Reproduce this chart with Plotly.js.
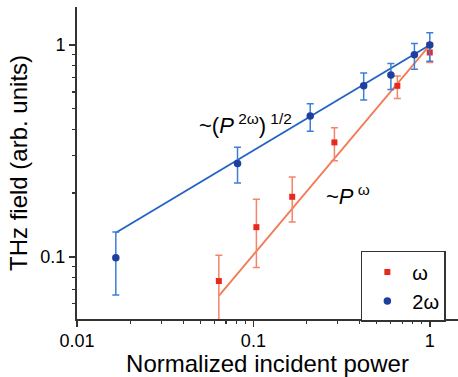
<!DOCTYPE html>
<html>
<head>
<meta charset="utf-8">
<script src="https://cdn.plot.ly/plotly-3.0.1.min.js"></script>
<style>html,body{margin:0;padding:0;background:#fff;}#chart{width:458px;height:377px;}</style>
</head>
<body>
<div id="chart"></div>
<script>
// ω (fundamental) data
const powerOmega = [0.0637, 0.104, 0.166, 0.288, 0.655, 1.0];
const fieldOmega = [0.0768, 0.138, 0.192, 0.347, 0.642, 0.923];
const errOmegaPlus = [0.025, 0.049, 0.046, 0.060, 0.072, 0.103];
const errOmegaMinus = [0.047, 0.049, 0.046, 0.063, 0.082, 0.095];

// 2ω (second harmonic) data
const power2Omega = [0.0166, 0.0813, 0.210, 0.422, 0.602, 0.818, 1.0];
const field2Omega = [0.099, 0.276, 0.462, 0.642, 0.722, 0.900, 1.0];
const err2OmegaPlus = [0.032, 0.053, 0.066, 0.096, 0.097, 0.118, 0.143];
const err2OmegaMinus = [0.033, 0.053, 0.070, 0.091, 0.105, 0.130, 0.160];

// fit lines (end points)
const fitOmegaX = [0.0637, 1.0];
const fitOmegaY = [0.0653, 1.0];
const fit2OmegaX = [0.0166, 1.0];
const fit2OmegaY = [0.130, 1.0];

const tickVals = [0.01, 0.1, 1];
const tickText = ['0.01', '0.1', '1'];
const yTickVals = [0.1, 1];
const yTickText = ['0.1', '1'];

const FONT = 'Arial, "Liberation Sans", sans-serif';

const traces = [
  {x: fitOmegaX, y: fitOmegaY, mode: 'lines', line: {color: '#f27a55', width: 1.8}, showlegend: false, hoverinfo: 'skip'},
  {x: fit2OmegaX, y: fit2OmegaY, mode: 'lines', line: {color: '#2262c4', width: 1.8}, showlegend: false, hoverinfo: 'skip'},
  {x: powerOmega, y: fieldOmega, name: 'ω', mode: 'markers',
   marker: {symbol: 'square', size: 6, color: '#e82a1e'},
   error_y: {type: 'data', symmetric: false, array: errOmegaPlus, arrayminus: errOmegaMinus, color: '#f4846a', thickness: 1.5, width: 3.5}},
  {x: power2Omega, y: field2Omega, name: '2ω', mode: 'markers',
   marker: {symbol: 'circle', size: 7.5, color: '#1f3f9f'},
   error_y: {type: 'data', symmetric: false, array: err2OmegaPlus, arrayminus: err2OmegaMinus, color: '#3d7ed8', thickness: 1.5, width: 3.5}}
];

const layout = {
  width: 458, height: 377,
  margin: {l: 77, r: 0, t: 7, b: 58},
  paper_bgcolor: '#fff', plot_bgcolor: '#fff',
  font: {family: FONT, color: '#000', size: 18},
  xaxis: {
    type: 'log', range: [-2, 0.16], showgrid: false, zeroline: false,
    showline: true, linecolor: '#333', linewidth: 2,
    ticks: 'outside', ticklen: 6, tickwidth: 1.5, tickcolor: '#333',
    tickvals: tickVals, ticktext: tickText, tickfont: {size: 18, family: FONT},
    ticklabelstandoff: -2,
    minor: {ticks: 'outside', ticklen: 3, tickwidth: 1.2, tickcolor: '#333', dtick: 'D1', showgrid: false},
    title: {text: 'Normalized incident power', font: {size: 24, family: FONT}, standoff: 3}
  },
  yaxis: {
    type: 'log', range: [-1.294, 0.18], showgrid: false, zeroline: false,
    showline: true, linecolor: '#333', linewidth: 2,
    ticks: 'outside', ticklen: 6, tickwidth: 1.5, tickcolor: '#333',
    tickvals: yTickVals, ticktext: yTickText, tickfont: {size: 18, family: FONT},
    minor: {ticks: 'outside', ticklen: 3, tickwidth: 1.2, tickcolor: '#333', dtick: 'D1', showgrid: false},
    title: {text: 'THz field (arb. units)', font: {size: 24, family: FONT}, standoff: 6}
  },
  legend: {
    x: 0.745, y: 0.218, xanchor: 'left', yanchor: 'top',
    bordercolor: '#333', borderwidth: 1.5, bgcolor: '#fff',
    font: {size: 20, family: FONT}, itemwidth: 40, tracegroupgap: 0
  },
  annotations: [
    {xref: 'paper', yref: 'paper', x: 0.441, y: 0.676, showarrow: false,
     text: '~(<i>P</i><sup> 2ω</sup>)<sup> 1/2</sup>', font: {size: 22, family: FONT}},
    {xref: 'paper', yref: 'paper', x: 0.774, y: 0.397, showarrow: false,
     text: '~<i>P</i><sup> ω</sup>', font: {size: 22, family: FONT}}
  ],
  showlegend: true
};

Plotly.newPlot('chart', traces, layout, {displayModeBar: false, staticPlot: true});
</script>
</body>
</html>
